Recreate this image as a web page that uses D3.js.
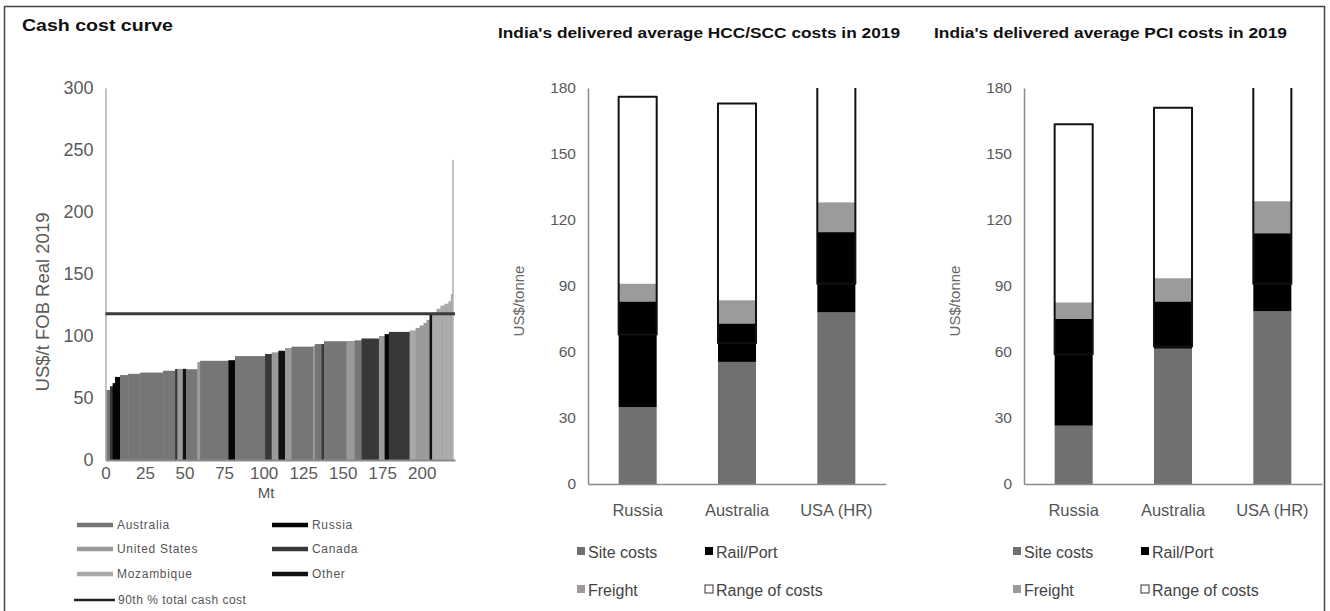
<!DOCTYPE html>
<html><head><meta charset="utf-8">
<script src="https://cdn.jsdelivr.net/npm/d3@7"></script>
<style>
body{margin:0;background:#fff;}
svg{display:block;font-family:"Liberation Sans Narrow","Liberation Sans",Arial,sans-serif;}
</style></head><body>
<svg id="c" width="1330" height="611"></svg>
<script>
// ---------- Cash cost curve data ----------
const curveCountry = ["Australia","Canada","Russia","Russia","Australia","Australia","Australia","Australia",
  "Canada","United States","Other","Australia","United States","Australia","Russia","Australia",
  "Canada","United States","Other","United States","Australia","United States","Australia","Canada",
  "Australia","United States","Australia","Canada","United States","Russia","Canada","Mozambique",
  "United States","United States","United States","United States","Other","Mozambique","Mozambique",
  "Mozambique","Mozambique","Mozambique","Mozambique","Mozambique"];
const curveWidth = [2.8,1.7,1.5,3.2,5.1,7.6,14.5,7.6,
  1.5,3.4,2.1,7.1,1.7,17.9,4.2,19.0,
  4.2,4.2,4.2,4.2,13.6,1.1,4.2,1.6,
  14.2,5.2,4.2,11.1,3.6,2.7,13.1,3.8,
  2.5,2.5,1.9,1.9,1.7,2.7,2.5,
  2.5,2.5,1.6,0.9,0.6];
const curveCost = [56.5,59.5,62,67,68.5,69.5,70.5,72,
  73.4,73.5,73.5,73.2,79,80,80.5,83.8,
  85.5,86.8,88.1,90.3,91.4,92,93.5,93.5,
  95.8,96,96.5,98,100,101.5,103.3,104.5,
  106.5,108.5,110.5,113,117,119,122,
  124.5,126,128,134,242];
const percentile90 = 118;
const curveXTicks = [0,25,50,75,100,125,150,175,200];
const curveYTicks = [0,50,100,150,200,250,300];
const legendCountries = ["Australia","Russia","United States","Canada","Mozambique","Other"];
const countryColors = ["#767676","#050505","#9a9a9a","#383838","#a9a9a9","#111111"];

// ---------- Delivered cost data ----------
const costCategories = ["Russia","Australia","USA (HR)"];
const costSeries = ["Site costs","Rail/Port","Freight","Range of costs"];
const hccSite = [35, 55.5, 78];
const hccRail = [48, 17.5, 36.5];
const hccFreight = [8, 10.5, 13.5];
const hccRangeLow = [68, 64, 91];
const hccRangeHigh = [176, 173, 200];
const pciSite = [26.5, 61.5, 78.5];
const pciRail = [48.5, 21.5, 35.5];
const pciFreight = [7.5, 10.5, 14.5];
const pciRangeLow = [59, 62.5, 91];
const pciRangeHigh = [163.5, 171, 200];
const costYTicks = [0,30,60,90,120,150,180];
const seriesColors = ["#707070","#000000","#9b9b9b","#ffffff"];

const svg = d3.select("#c");

// frame
svg.append("rect").attr("x",4.5).attr("y",6.5).attr("width",1320).attr("height",620)
  .attr("fill","none").attr("stroke","#444").attr("stroke-width",1.5);

// ================= LEFT: Cash cost curve =================
svg.append("text").attr("x",22).attr("y",31).attr("font-family","Liberation Sans, Arial, sans-serif")
  .attr("font-weight","bold").attr("font-size",16.5).attr("fill","#111")
  .attr("textLength",151).attr("lengthAdjust","spacingAndGlyphs").text("Cash cost curve");

const xs = d3.scaleLinear().domain([0,221]).range([105.5,455]);
const ys = d3.scaleLinear().domain([0,300]).range([460,88]);
const starts = [0, ...d3.cumsum(curveWidth)];
const colorOf = d3.scaleOrdinal().domain(legendCountries).range(countryColors);

const gCurve = svg.append("g");
gCurve.selectAll("rect").data(curveCost).join("rect")
  .attr("x",(d,i)=>xs(starts[i]))
  .attr("width",(d,i)=>Math.max(0.8, xs(starts[i]+curveWidth[i])-xs(starts[i])+0.4))
  .attr("y",d=>ys(d))
  .attr("height",d=>ys(0)-ys(d))
  .attr("fill",(d,i)=>colorOf(curveCountry[i]));

// axes
const yAxisL = svg.append("g").attr("transform",`translate(${xs(0)},0)`)
  .call(d3.axisLeft(ys).tickValues(curveYTicks).tickSize(0).tickPadding(12));
yAxisL.select(".domain").attr("stroke","#b0b0b0").attr("stroke-width",1.5);
yAxisL.selectAll("text").attr("font-size",18).attr("fill","#5a5a5a")
  .attr("font-family","Liberation Sans, Arial, sans-serif");

const xAxisL = svg.append("g").attr("transform",`translate(0,${ys(0)})`)
  .call(d3.axisBottom(xs).tickValues(curveXTicks).tickSize(0).tickPadding(7));
xAxisL.select(".domain").attr("stroke","#8a8a8a").attr("stroke-width",2);
xAxisL.selectAll("text").attr("font-size",17).attr("fill","#5a5a5a")
  .attr("font-family","Liberation Sans, Arial, sans-serif");

// 90th percentile line
svg.append("line").attr("x1",xs(0)).attr("x2",xs(221)).attr("y1",ys(percentile90)).attr("y2",ys(percentile90))
  .attr("stroke","#3a3a3a").attr("stroke-width",3);

// axis titles
svg.append("text").attr("transform",`translate(49,302) rotate(-90)`)
  .attr("text-anchor","middle").attr("font-size",18.5).attr("fill","#5a5a5a")
  .attr("font-family","Liberation Sans, Arial, sans-serif")
  .text("US$/t FOB Real 2019");
svg.append("text").attr("x",266).attr("y",498).attr("text-anchor","middle")
  .attr("font-size",15).attr("fill","#555").text("Mt");

// legend
const legL = [
  {n:"Australia",x:77,y:525},{n:"Russia",x:272,y:525},
  {n:"United States",x:77,y:549},{n:"Canada",x:272,y:549},
  {n:"Mozambique",x:77,y:574},{n:"Other",x:272,y:574}
];
legL.forEach(d=>{
  svg.append("line").attr("x1",d.x).attr("x2",d.x+36).attr("y1",d.y).attr("y2",d.y)
    .attr("stroke",colorOf(d.n)).attr("stroke-width",4.5);
  svg.append("text").attr("x",d.x+40).attr("y",d.y+4).attr("font-size",12).attr("fill","#555")
    .attr("letter-spacing",0.7)
    .attr("font-family","Liberation Sans, Arial, sans-serif").text(d.n);
});
svg.append("line").attr("x1",74).attr("x2",115).attr("y1",600).attr("y2",600)
  .attr("stroke","#222").attr("stroke-width",2.5);
svg.append("text").attr("x",118).attr("y",604).attr("font-size",12).attr("fill","#555")
  .attr("letter-spacing",0.5)
  .attr("font-family","Liberation Sans, Arial, sans-serif").text("90th % total cash cost");

// ================= Delivered cost charts =================
function drawCost(ox, title, titleLen, site, rail, freight, rLow, rHigh, id){
  const g = svg.append("g").attr("transform",`translate(${ox},0)`);
  g.append("text").attr("x",-90).attr("y",38).attr("font-family","Liberation Sans, Arial, sans-serif")
    .attr("font-weight","bold").attr("font-size",14.5).attr("fill","#111")
    .attr("textLength",titleLen).attr("lengthAdjust","spacingAndGlyphs").text(title);

  const x = d3.scaleBand().domain(costCategories).range([0,298]).paddingInner(0.617).paddingOuter(0.3085);
  const y = d3.scaleLinear().domain([0,180]).range([484,88]);

  g.append("clipPath").attr("id",id).append("rect").attr("x",-5).attr("y",88).attr("width",310).attr("height",400);
  const plot = g.append("g").attr("clip-path",`url(#${id})`);

  const rows = costCategories.map((c,i)=>({c, site:site[i], rail:rail[i], freight:freight[i]}));
  const stack = d3.stack().keys(["site","rail","freight"])(rows);
  stack.forEach((layer,k)=>{
    plot.selectAll(null).data(layer).join("rect")
      .attr("x",d=>x(d.data.c)).attr("width",x.bandwidth())
      .attr("y",d=>y(d[1])).attr("height",d=>y(d[0])-y(d[1]))
      .attr("fill",seriesColors[k]);
  });
  // range of costs
  plot.selectAll(null).data(costCategories).join("rect")
    .attr("x",d=>x(d)).attr("width",x.bandwidth())
    .attr("y",(d,i)=>y(rHigh[i])).attr("height",(d,i)=>y(rLow[i])-y(rHigh[i]))
    .attr("fill","none").attr("stroke","#111").attr("stroke-width",2).attr("stroke-linejoin","round");

  const ya = g.append("g").call(d3.axisLeft(y).tickValues(costYTicks).tickSize(0).tickPadding(12));
  ya.select(".domain").attr("stroke","#8a8a8a").attr("stroke-width",1.5);
  ya.selectAll("text").attr("font-size",15.5).attr("fill","#5a5a5a");
  const xa = g.append("g").attr("transform","translate(0,484)").call(d3.axisBottom(x).tickSize(0).tickPadding(20));
  xa.select(".domain").attr("stroke","#8a8a8a").attr("stroke-width",1.5);
  xa.selectAll("text").attr("font-size",16.5).attr("fill","#555");

  g.append("text").attr("transform","translate(-64,301) rotate(-90)").attr("text-anchor","middle")
    .attr("font-size",15).attr("fill","#666").text("US$/tonne");

  const leg = [{x:-11,y:552},{x:117,y:552},{x:-11,y:590},{x:117,y:590}];
  costSeries.forEach((s,k)=>{
    const L = leg[k];
    g.append("rect").attr("x",L.x).attr("y",L.y-5).attr("width",8).attr("height",8)
      .attr("fill",seriesColors[k]).attr("stroke",k===3?"#333":"none").attr("stroke-width",1);
    g.append("text").attr("x",L.x+11).attr("y",L.y+5.5).attr("font-size",16).attr("fill","#444").text(s);
  });
}
drawCost(588, "India's delivered average HCC/SCC costs in 2019", 402, hccSite, hccRail, hccFreight, hccRangeLow, hccRangeHigh, "clipA");
drawCost(1024, "India's delivered average PCI costs in 2019", 353, pciSite, pciRail, pciFreight, pciRangeLow, pciRangeHigh, "clipB");
</script>
</body></html>
